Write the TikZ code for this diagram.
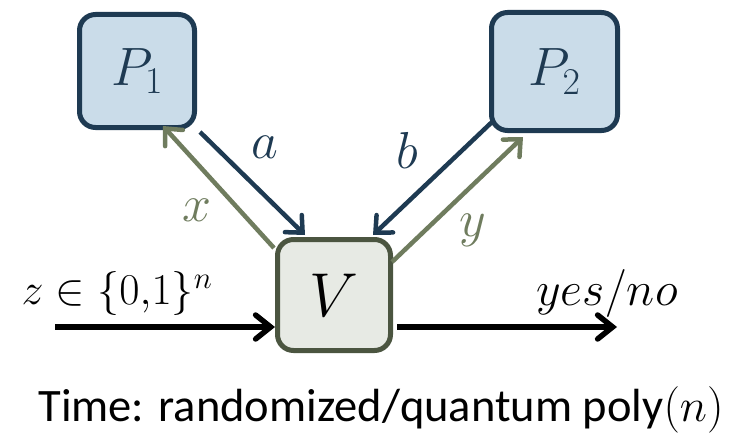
\RequirePackage{fix-cm}
\documentclass[tikz,border=0pt]{standalone}
\usepackage{fontspec}
\setmainfont{Carlito}
\usetikzlibrary{arrows.meta}
\definecolor{navy}{HTML}{1E3A52}
\definecolor{pfill}{HTML}{CADCE9}
\definecolor{vfill}{HTML}{E7EAE4}
\definecolor{vborder}{HTML}{4B5540}
\definecolor{olive}{HTML}{6F7C5E}
\begin{document}
\begin{tikzpicture}[x=1pt,y=1pt,
  pbox/.style={draw=navy, fill=pfill, line width=5pt, rounded corners=16pt, text=navy,
    font=\fontsize{54}{60}\selectfont},
  vbox/.style={draw=vborder, fill=vfill, line width=5pt, rounded corners=16pt, text=black,
    font=\fontsize{62}{70}\selectfont},
  darrow/.style={draw=navy, line width=4.5pt, -{Straight Barb[length=13pt,width=24pt,line cap=round]}},
  garrow/.style={draw=olive, line width=4.5pt, -{Straight Barb[length=13pt,width=24pt,line cap=round]}},
  barrow/.style={draw=black, line width=5.5pt, -{Straight Barb[length=15pt,width=24pt,line cap=round]}},
  lbl/.style={font=\fontsize{52}{60}\selectfont},
  mlbl/.style={font=\fontsize{44}{50}\selectfont, text=black},
]
\useasboundingbox (0,0) rectangle (743,432);
\node[pbox, minimum width=115pt, minimum height=113pt] (P1) at (137,361) {$P_1$};
\node[pbox, minimum width=126pt, minimum height=118pt] (P2) at (554.5,360.5) {$P_2$};
\node[vbox, minimum width=113pt, minimum height=111pt] (V) at (334,137) {$V$};

\coordinate (aS) at (200,300); \coordinate (aE) at (305,197);
\coordinate (xS) at (274,184); \coordinate (xE) at (163,306);
\coordinate (bS) at (492,310); \coordinate (bE) at (373,197);
\coordinate (yS) at (392,170); \coordinate (yE) at (523,295);
\coordinate (inS) at (55,105); \coordinate (inE) at (275,105);
\coordinate (outS) at (397,105); \coordinate (outE) at (617,105);

\draw[darrow] (aS) -- (aE);
\draw[garrow] (xS) -- (xE);
\draw[darrow] (bS) -- (bE);
\draw[garrow] (yS) -- (yE);
\draw[barrow] (inS) -- (inE);
\draw[barrow] (outS) -- (outE);

\node[lbl, text=navy] (la) at (265,285) {$a$};
\node[lbl, text=olive] (lx) at (197,222) {$x$};
\node[lbl, text=navy] (lb) at (407,282) {$b$};
\node[lbl, text=olive] (ly) at (473,202) {$y$};
\node[mlbl] (lz) at (117,139) {$z\in\{0{,}1\}^n$};
\node[mlbl, font=\fontsize{48}{54}\selectfont] (lyn) at (607,139) {$yes/no$};
\node[font=\fontsize{46.5}{54}\selectfont] (time) at (381,22) {Time: randomized/quantum poly$(n)$};
\end{tikzpicture}
\end{document}
